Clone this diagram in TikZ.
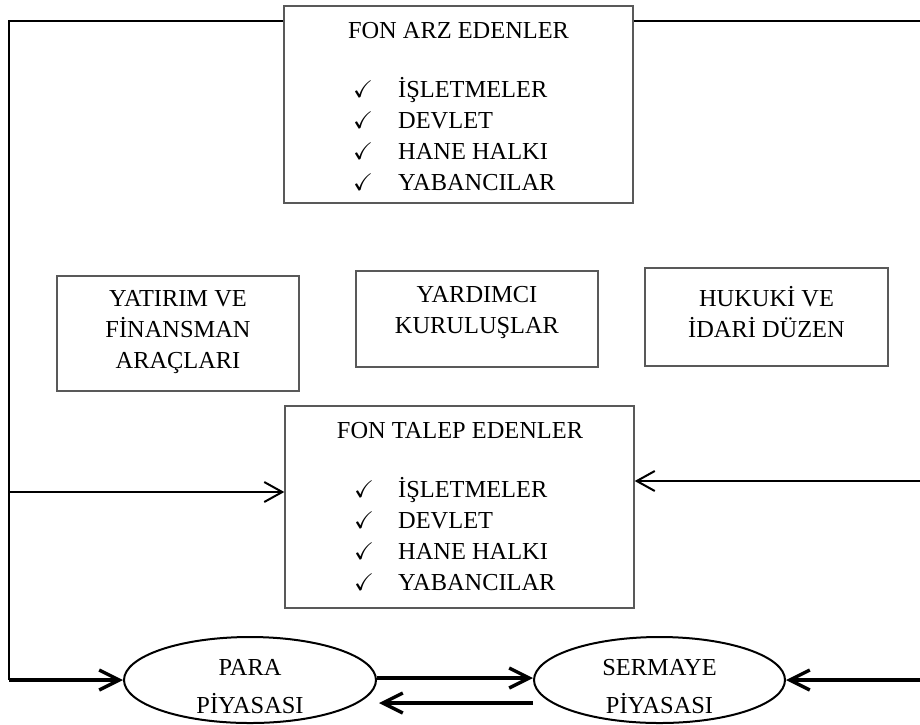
\documentclass[tikz,border=0pt]{standalone}
\usepackage{fontspec}
\setmainfont{Liberation Serif}
\usepackage{amssymb}
\usetikzlibrary{shapes.geometric,arrows.meta}

\begin{document}
\begin{tikzpicture}[x=1pt,y=-1pt,
  every node/.style={font=\fontsize{24.4}{31}\selectfont, inner sep=0pt, text=black},
  box/.style={draw=black!65, line width=1.4pt, rectangle, align=center},
  market/.style={draw=black, line width=2pt, ellipse, align=center},
  thin line/.style={line width=2pt, black},
  thin arrow/.style={line width=2pt, -{Straight Barb[length=18pt,width=20pt]}},
  thick arrow/.style={line width=3.4pt, -{Straight Barb[length=20pt,width=20pt]}},
  tick/.style={anchor=base west, font=\fontsize{24}{24}\selectfont},
  item/.style={anchor=base west},
  caption/.style={align=center},
]
\useasboundingbox (0,0) rectangle (920,724);

% supplier and demander boxes
\node[box, minimum width=349pt, minimum height=197pt] (arz) at (458.5,104.5) {};
\node[anchor=base] (arzt) at (458.5,38) {FON ARZ EDENLER};
\foreach \t/\y [count=\i] in {İŞLETMELER/97, DEVLET/128, HANE HALKI/159, YABANCILAR/190} {
  \node[tick] (arzc\i) at (353,\y) {$\checkmark$};
  \node[item] (arzi\i) at (398,\y) {\t};
}

\node[box, minimum width=349pt, minimum height=202pt] (talep) at (459.5,507) {};
\node[anchor=base] (talept) at (460,438) {FON TALEP EDENLER};
\foreach \t/\y [count=\i] in {İŞLETMELER/497, DEVLET/528, HANE HALKI/559, YABANCILAR/590} {
  \node[tick] (talc\i) at (354,\y) {$\checkmark$};
  \node[item] (tali\i) at (398,\y) {\t};
}

% middle row
\node[box, minimum width=242pt, minimum height=115pt] (yat) at (178,333.5) {};
\node[caption] (yattxt) at (178,332) {YATIRIM VE\\FİNANSMAN\\ARAÇLARI};
\node[box, minimum width=242pt, minimum height=96pt] (yar) at (477,319) {};
\node[caption] (yartxt) at (477,313) {YARDIMCI\\KURULUŞLAR};
\node[box, minimum width=243pt, minimum height=98pt] (huk) at (766.5,317) {};
\node[caption] (huktxt) at (766.5,312) {HUKUKİ VE\\İDARİ DÜZEN};

% markets
\node[market, minimum width=252pt, minimum height=86pt] (para) at (250,680) {};
\node[anchor=base] (parat1) at (250,675) {PARA};
\node[anchor=base] (parat2) at (250,713) {PİYASASI};
\node[market, minimum width=251pt, minimum height=86pt] (sermaye) at (659.5,680) {};
\node[anchor=base] (sert1) at (659.5,675) {SERMAYE};
\node[anchor=base] (sert2) at (659.5,713) {PİYASASI};

% frame lines
\coordinate (tl) at (9,21);
\coordinate (tr) at (920,21);
\coordinate (bl) at (9,680);
\coordinate (br) at (920,680);
\coordinate (ml) at (9,492);
\coordinate (mr) at (920,481);

\draw[thin line] (arz.west |- tl) -- (tl) -- (bl);
\draw[thin line] (arz.east |- tr) -- (tr);
\draw[thin arrow] (ml) -- (talep.west |- ml);
\draw[thin arrow] (mr) -- (talep.east |- mr);

\draw[thick arrow] (bl) -- (para.west);
\draw[thick arrow] ([yshift=2pt]para.east) -- ([yshift=2pt]sermaye.west);
\draw[thick arrow] ([yshift=-23pt]sermaye.west) -- ([yshift=-23pt,xshift=2pt]para.east);
\draw[thick arrow] (br) -- (sermaye.east);
\end{tikzpicture}
\end{document}
